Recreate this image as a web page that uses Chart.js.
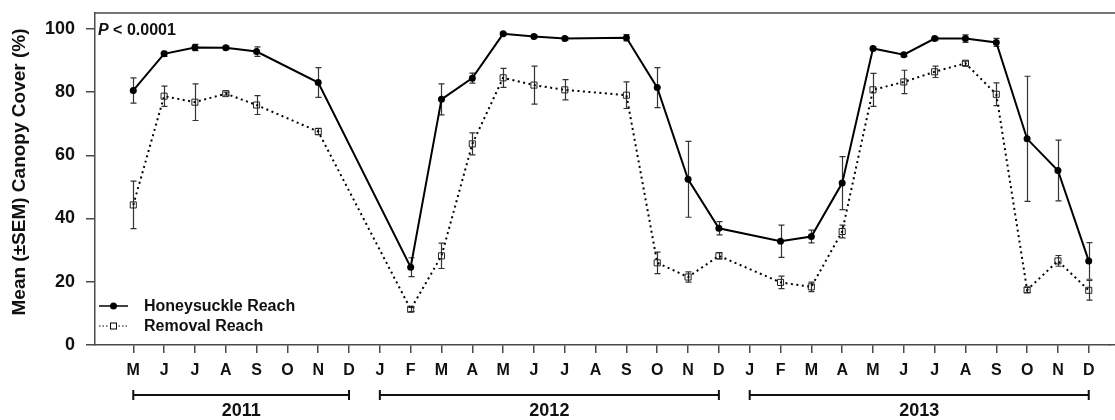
<!DOCTYPE html>
<html>
<head>
<meta charset="utf-8">
<script src="https://cdn.jsdelivr.net/npm/chart.js@4/dist/chart.umd.min.js"></script>
<style>
  html, body { margin: 0; padding: 0; background: #fff; }
  #wrap { width: 1115px; height: 420px; position: relative; }
</style>
</head>
<body>
<div id="wrap"><canvas id="graph"></canvas></div>
<script>
"use strict";

// months May 2011 .. Dec 2013
const months = ["M", "J", "J", "A", "S", "O", "N", "D",
  "J", "F", "M", "A", "M", "J", "J", "A", "S", "O", "N", "D",
  "J", "F", "M", "A", "M", "J", "J", "A", "S", "O", "N", "D"];

// year brackets: first and last month index
const years = ["2011", "2012", "2013"];
const year_start = [0, 8, 20];
const year_end = [7, 19, 31];

const y_ticks = [0, 20, 40, 60, 80, 100];

const honeysuckle = [80.5, 92.1, 94.1, 94.0, 92.8, null, 83.0, null,
  null, 24.6, 77.7, 84.4, 98.4, 97.6, 96.9, null, 97.2, 81.4, 52.4, 36.9,
  null, 32.8, 34.3, 51.2, 93.8, 91.8, 96.9, 96.9, 95.7, 65.2, 55.2, 26.6];
const honeysuckle_sem = [4.0, 0.8, 1.0, 0.5, 1.5, null, 4.7, null,
  null, 3.0, 4.9, 1.6, 0.4, 0.4, 0.5, null, 1.0, 6.3, 12.0, 2.1,
  null, 5.1, 2.0, 8.4, 0.4, 0.5, 0.5, 1.2, 1.3, 19.8, 9.6, 5.8];

const removal = [44.3, 78.7, 76.8, 79.5, 75.9, null, 67.5, null,
  null, 11.3, 28.2, 63.6, 84.5, 82.2, 80.7, null, 79.0, 26.0, 21.5, 28.2,
  null, 19.8, 18.4, 35.9, 80.7, 83.2, 86.4, 89.1, 79.3, 17.4, 26.6, 17.3];
const removal_sem = [7.5, 3.2, 5.8, 0.5, 3.0, null, 1.0, null,
  null, 0.7, 4.0, 3.5, 3.0, 6.0, 3.2, null, 4.2, 3.4, 1.6, 1.0,
  null, 2.0, 1.5, 2.0, 5.2, 3.7, 1.8, 0.7, 3.6, 0.8, 1.7, 3.1];

const FONT = "'Liberation Sans', Arial, Helvetica, sans-serif";
const AXIS = "#4a4a4a";

function to_points(values) {
  let pts = [];
  values.forEach((v, i) => {
    if (v !== null) pts.push({ x: i, y: v });
  });
  return pts;
}

const sem_list = [honeysuckle_sem, removal_sem];

// error bars, frame lines, legend, labels
const extras = {
  id: "extras",
  beforeDatasetsDraw(chart) {
    const ctx = chart.ctx;
    const xs = chart.scales.x;
    const ys = chart.scales.y;
    ctx.save();
    ctx.strokeStyle = "#333";
    ctx.lineWidth = 1.2;
    chart.data.datasets.forEach((ds, d) => {
      const sem = sem_list[d];
      ds.data.forEach((p) => {
        const s = sem[p.x];
        if (!s) return;
        const px = Math.round(xs.getPixelForValue(p.x)) + 0.5;
        const top = ys.getPixelForValue(p.y + s);
        const bot = ys.getPixelForValue(p.y - s);
        ctx.beginPath();
        ctx.moveTo(px, top);
        ctx.lineTo(px, bot);
        ctx.moveTo(px - 3, top);
        ctx.lineTo(px + 3, top);
        ctx.moveTo(px - 3, bot);
        ctx.lineTo(px + 3, bot);
        ctx.stroke();
      });
    });
    ctx.restore();
  },
  afterDraw(chart) {
    const ctx = chart.ctx;
    const area = chart.chartArea;
    const xs = chart.scales.x;
    ctx.save();

    // top frame line, bottom axis runs to the edge
    ctx.strokeStyle = AXIS;
    ctx.lineWidth = 1.5;
    ctx.beginPath();
    ctx.moveTo(area.left, area.top);
    ctx.lineTo(chart.width, area.top);
    ctx.moveTo(area.right - 1, area.bottom - 0.25);
    ctx.lineTo(chart.width, area.bottom - 0.25);
    ctx.stroke();

    // P value
    ctx.fillStyle = "#111";
    ctx.textBaseline = "middle";
    ctx.textAlign = "left";
    ctx.font = "italic bold 16px " + FONT;
    ctx.fillText("P", area.left + 3, 31);
    const pw = ctx.measureText("P").width;
    ctx.font = "bold 16px " + FONT;
    ctx.fillText(" < 0.0001", area.left + 3 + pw, 31);

    // legend
    const lx1 = 99, lx2 = 128, lc = 113.5;
    ctx.strokeStyle = "#000";
    ctx.lineWidth = 1.5;
    ctx.beginPath();
    ctx.moveTo(lx1, 306);
    ctx.lineTo(lx2, 306);
    ctx.stroke();
    ctx.fillStyle = "#000";
    ctx.beginPath();
    ctx.arc(lc, 306, 3.5, 0, Math.PI * 2);
    ctx.fill();

    ctx.lineWidth = 1;
    ctx.setLineDash([1.5, 2]);
    ctx.beginPath();
    ctx.moveTo(lx1, 326);
    ctx.lineTo(lc - 5, 326);
    ctx.moveTo(lc + 5, 326);
    ctx.lineTo(lx2, 326);
    ctx.stroke();
    ctx.setLineDash([]);
    ctx.strokeRect(lc - 3, 323, 6, 6);

    ctx.fillStyle = "#111";
    ctx.font = "bold 16px " + FONT;
    ctx.fillText("Honeysuckle Reach", 144, 307);
    ctx.fillText("Removal Reach", 144, 327);

    // year brackets
    ctx.strokeStyle = "#111";
    ctx.lineWidth = 2;
    ctx.textAlign = "center";
    ctx.font = "bold 18px " + FONT;
    years.forEach((label, i) => {
      const a = xs.getPixelForValue(year_start[i]);
      const b = xs.getPixelForValue(year_end[i]);
      ctx.beginPath();
      ctx.moveTo(a, 395);
      ctx.lineTo(b, 395);
      ctx.moveTo(a, 390);
      ctx.lineTo(a, 400);
      ctx.moveTo(b, 390);
      ctx.lineTo(b, 400);
      ctx.stroke();
      ctx.fillText(label, (a + b) / 2, 411);
    });

    // y axis title
    ctx.translate(20, 172);
    ctx.rotate(-Math.PI / 2);
    ctx.font = "bold 19px " + FONT;
    ctx.fillText("Mean (\u00B1SEM) Canopy Cover (%)", 0, 0);
    ctx.restore();
  },
};

const config = {
  type: "line",
  data: {
    datasets: [
      {
        label: "Honeysuckle Reach",
        data: to_points(honeysuckle),
        borderColor: "#000",
        borderWidth: 2,
        pointStyle: "circle",
        pointRadius: 3.5,
        pointBackgroundColor: "#000",
        pointBorderColor: "#000",
        pointBorderWidth: 0,
        tension: 0,
      },
      {
        label: "Removal Reach",
        data: to_points(removal),
        borderColor: "#000",
        borderWidth: 2,
        borderDash: [2, 3.5],
        pointStyle: "rect",
        pointRadius: 4.3,
        pointBackgroundColor: "rgba(255,255,255,0)",
        pointBorderColor: "#222",
        pointBorderWidth: 1,
        tension: 0,
      },
    ],
  },
  options: {
    responsive: true,
    maintainAspectRatio: false,
    animation: false,
    layout: { padding: { top: 13, right: 0, bottom: 0, left: 0 } },
    plugins: {
      legend: { display: false },
      tooltip: { enabled: false },
    },
    scales: {
      x: {
        type: "linear",
        min: -1.242,
        max: 31.68,
        afterBuildTicks: (axis) => {
          axis.ticks = months.map((m, i) => ({ value: i }));
        },
        afterFit: (axis) => {
          axis.height = 75;
          axis.paddingLeft = 0;
          axis.paddingRight = 0;
        },
        ticks: {
          autoSkip: false,
          maxRotation: 0,
          padding: 8,
          color: "#111",
          font: { family: FONT, size: 16, weight: "bold" },
          callback: (value) => months[value],
        },
        grid: {
          display: true,
          drawOnChartArea: false,
          drawTicks: true,
          tickLength: 8,
          color: AXIS,
          lineWidth: 1.5,
        },
        border: { display: true, color: AXIS, width: 1.5 },
      },
      y: {
        min: 0,
        max: 105,
        afterBuildTicks: (axis) => {
          axis.ticks = y_ticks.map((v) => ({ value: v }));
        },
        afterFit: (axis) => {
          axis.width = 95;
          axis.paddingTop = 0;
          axis.paddingBottom = 0;
        },
        ticks: {
          padding: 11,
          color: "#111",
          font: { family: FONT, size: 18, weight: "bold" },
        },
        grid: {
          display: true,
          drawOnChartArea: false,
          drawTicks: true,
          tickLength: 9,
          color: AXIS,
          lineWidth: 1.5,
        },
        border: { display: true, color: AXIS, width: 1.5 },
      },
    },
  },
  plugins: [extras],
};

new Chart(document.getElementById("graph"), config);
</script>
</body>
</html>
